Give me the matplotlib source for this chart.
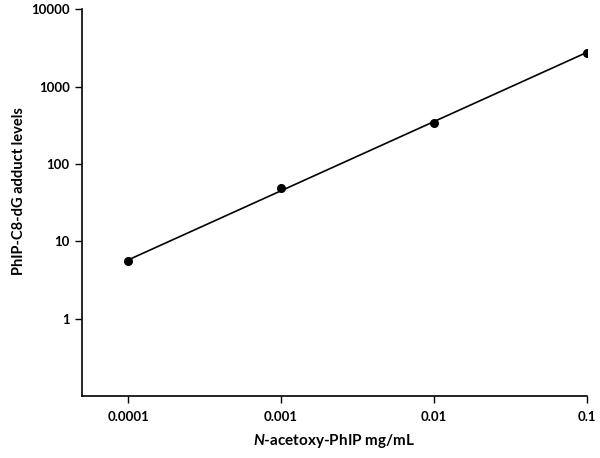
import numpy as np
import matplotlib.pyplot as plt
from matplotlib.ticker import FixedLocator, NullLocator, FixedFormatter

conc = [0.0001, 0.001, 0.01, 0.1]          # N-acetoxy-PhIP mg/mL
adducts = [5.5, 49, 340, 2750]             # PhIP-C8-dG adduct levels
xticks = [0.0001, 0.001, 0.01, 0.1]
xlabels = ["0.0001", "0.001", "0.01", "0.1"]
yticks = [1, 10, 100, 1000, 10000]
ylabels = ["1", "10", "100", "1000", "10000"]

plt.rcParams["font.family"] = ["Lato", "DejaVu Sans"]
plt.rcParams["mathtext.fontset"] = "custom"
plt.rcParams["mathtext.bfit"] = "Lato:bold:italic"
plt.rcParams["mathtext.bf"] = "Lato:bold"

fig = plt.figure(figsize=(6, 4.58), dpi=100)
ax = fig.add_axes([0.137, 0.135, 0.841, 0.845])

# power trendline (straight in log-log)
lx = np.log10(conc)
ly = np.log10(adducts)
b, a = np.polyfit(lx, ly, 1)
fx = np.array([conc[0], conc[-1]])
ax.plot(fx, 10 ** (a + b * np.log10(fx)), color="black", lw=1.2)
ax.plot(conc, adducts, "o", color="black", ms=5.5)

ax.set_xscale("log")
ax.set_yscale("log")
ax.set_xlim(10 ** -4.3, 0.1)
ax.set_ylim(0.1, 10000)
ax.xaxis.set_major_locator(FixedLocator(xticks))
ax.xaxis.set_major_formatter(FixedFormatter(xlabels))
ax.yaxis.set_major_locator(FixedLocator(yticks))
ax.yaxis.set_major_formatter(FixedFormatter(ylabels))
ax.xaxis.set_minor_locator(NullLocator())
ax.yaxis.set_minor_locator(NullLocator())
ax.tick_params(direction="out", length=5, width=1, labelsize=9.5)
ax.tick_params(axis="x", pad=6)
ax.tick_params(axis="y", pad=4)
for lab in ax.get_xticklabels() + ax.get_yticklabels():
    lab.set_fontweight("bold")
for s in ["top", "right"]:
    ax.spines[s].set_visible(False)
for s in ["left", "bottom"]:
    ax.spines[s].set_linewidth(1.2)

ax.set_xlabel(r"$\mathbfit{N}$-acetoxy-PhIP mg/mL", fontsize=11, fontweight="bold", labelpad=6)
ax.set_ylabel("PhIP-C8-dG adduct levels", fontsize=10.5, fontweight="bold", labelpad=5)
ax.yaxis.set_label_coords(-0.112, 0.53)

fig.savefig("out.png", dpi=100)
